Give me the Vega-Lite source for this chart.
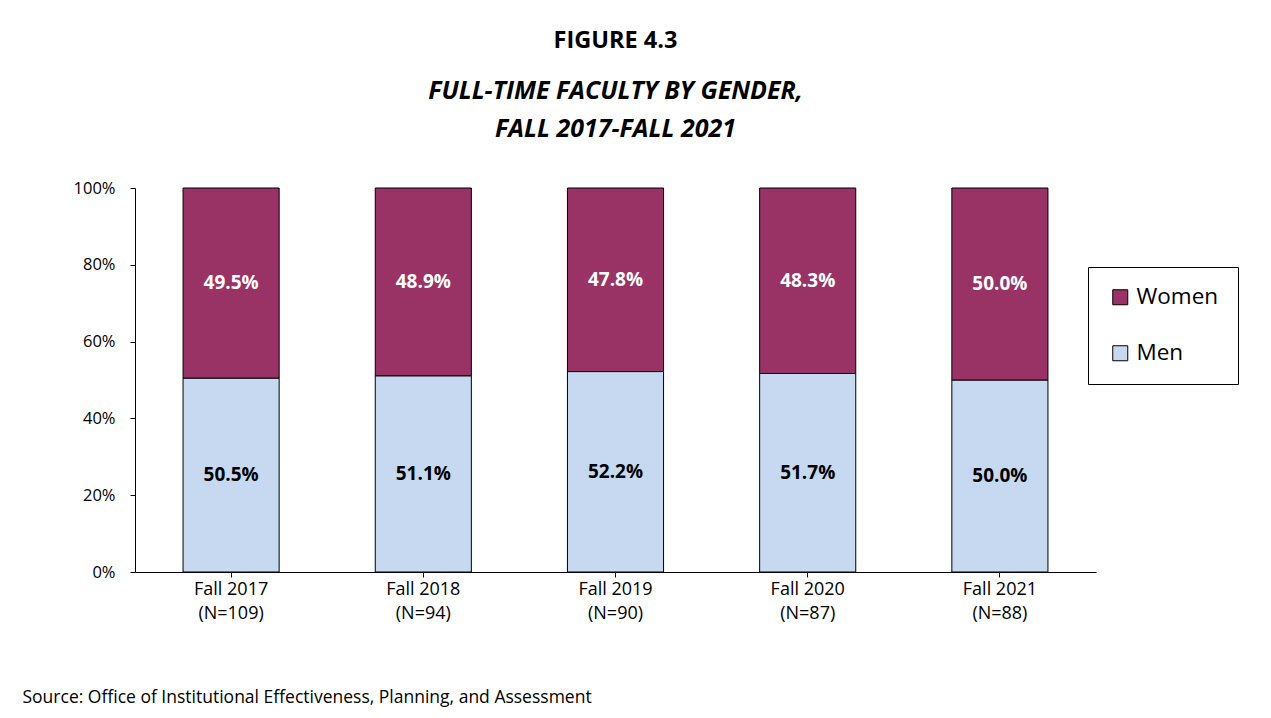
{
  "$schema": "https://vega.github.io/schema/vega-lite/v6.json",
  "autosize": {"type": "none"},
  "width": 961,
  "height": 384,
  "padding": {"left": 135, "top": 188, "right": 175, "bottom": 146},
  "background": "white",
  "config": {
    "font": "Open Sans",
    "view": {"stroke": null},
    "axis": {"labelColor": "black", "domainColor": "black", "tickColor": "black", "titleColor": "black", "labelFont": "Open Sans", "titleFont": "Open Sans"}
  },
  "title": {
    "text": "FIGURE 4.3",
    "subtitle": ["FULL-TIME FACULTY BY GENDER,", "FALL 2017-FALL 2021"],
    "anchor": "middle",
    "frame": "group",
    "font": "Open Sans",
    "subtitleFont": "Open Sans",
    "fontSize": 23.5,
    "fontWeight": "bold",
    "color": "black",
    "subtitleFontSize": 25,
    "subtitleFontStyle": "italic",
    "subtitleFontWeight": "bold",
    "subtitleColor": "black",
    "subtitleLineHeight": 38,
    "subtitlePadding": 27,
    "offset": 38
  },
  "data": {
    "values": [
      {"year": "Fall 2017|(N=109)", "gender": "Men", "share": 0.505},
      {"year": "Fall 2017|(N=109)", "gender": "Women", "share": 0.495},
      {"year": "Fall 2018|(N=94)", "gender": "Men", "share": 0.511},
      {"year": "Fall 2018|(N=94)", "gender": "Women", "share": 0.489},
      {"year": "Fall 2019|(N=90)", "gender": "Men", "share": 0.522},
      {"year": "Fall 2019|(N=90)", "gender": "Women", "share": 0.478},
      {"year": "Fall 2020|(N=87)", "gender": "Men", "share": 0.517},
      {"year": "Fall 2020|(N=87)", "gender": "Women", "share": 0.483},
      {"year": "Fall 2021|(N=88)", "gender": "Men", "share": 0.500},
      {"year": "Fall 2021|(N=88)", "gender": "Women", "share": 0.500}
    ]
  },
  "transform": [
    {"stack": "share", "groupby": ["year"], "sort": [{"field": "gender", "order": "ascending"}], "as": ["v0", "v1"]},
    {"calculate": "(datum.v0 + datum.v1) / 2", "as": "mid"}
  ],
  "encoding": {
    "x": {
      "field": "year",
      "type": "nominal",
      "sort": null,
      "scale": {"paddingInner": 0.5, "paddingOuter": 0.25},
      "axis": {
        "labelExpr": "split(datum.label, '|')",
        "labelAngle": 0,
        "labelFontSize": 18,
        "labelLineHeight": 24,
        "labelPadding": 3,
        "tickSize": 5,
        "title": "Source: Office of Institutional Effectiveness, Planning, and Assessment",
        "titleFontSize": 17.5,
        "titleFontWeight": "normal",
        "titleAnchor": "start",
        "titleAlign": "left",
        "titleBaseline": "alphabetic",
        "titleX": -113,
        "titleY": 130
      }
    }
  },
  "layer": [
    {
      "mark": {"type": "bar", "stroke": "black", "strokeWidth": 1},
      "encoding": {
        "y": {
          "field": "v1",
          "type": "quantitative",
          "scale": {"domain": [0, 1]},
          "axis": {"values": [0, 0.2, 0.4, 0.6, 0.8, 1], "format": ".0%", "title": null, "grid": false, "labelFontSize": 16.5, "tickSize": 5, "labelPadding": 15}
        },
        "y2": {"field": "v0"},
        "color": {
          "field": "gender",
          "type": "nominal",
          "scale": {"domain": ["Women", "Men"], "range": ["#993366", "#C6D9F1"]},
          "legend": {
            "title": null,
            "orient": "none",
            "legendX": 953,
            "legendY": 79,
            "strokeColor": "black",
            "fillColor": "white",
            "padding": 19,
            "symbolType": "square",
            "symbolSize": 225,
            "symbolStrokeColor": "black",
            "symbolStrokeWidth": 1,
            "symbolOpacity": 1,
            "labelFont": "Open Sans",
            "labelFontSize": 22.5,
            "labelColor": "black",
            "labelOffset": 5,
            "rowPadding": 33,
            "symbolOffset": 2
          }
        }
      }
    },
    {
      "mark": {"type": "text", "fontSize": 19, "fontWeight": "bold", "align": "center", "baseline": "middle", "font": "Open Sans"},
      "encoding": {
        "y": {"field": "mid", "type": "quantitative"},
        "text": {"field": "share", "type": "quantitative", "format": ".1%"},
        "color": {"condition": {"test": "datum.gender === 'Women'", "value": "white"}, "value": "black"}
      }
    }
  ]
}
